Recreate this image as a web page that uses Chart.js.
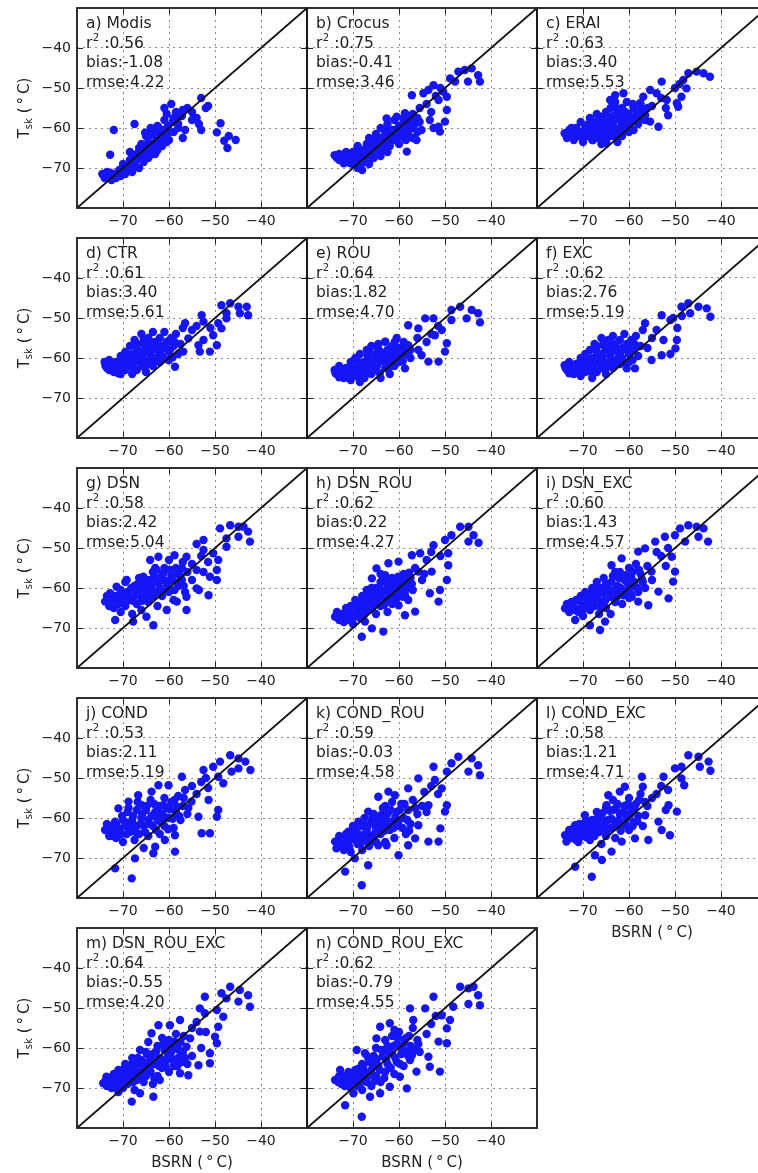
<!DOCTYPE html>
<html>
<head>
<meta charset="utf-8">
<script src="https://cdn.jsdelivr.net/npm/chart.js@4.4.0/dist/chart.umd.min.js"></script>
<style>
  html, body { margin: 0; padding: 0; background: #fff; overflow: hidden; }
  #wrap { position: relative; width: 758px; height: 1173px; overflow: hidden; }
  #wrap canvas { position: absolute; }
</style>
</head>
<body>
<div id="wrap"></div>
<script>
// tick values (both axes)
const xTicks = [-70, -60, -50, -40];
const yTicks = [-70, -60, -50, -40];

// panel texts
const panelNames = ["a) Modis", "b) Crocus", "c) ERAI", "d) CTR", "e) ROU", "f) EXC", "g) DSN",
  "h) DSN_ROU", "i) DSN_EXC", "j) COND", "k) COND_ROU", "l) COND_EXC", "m) DSN_ROU_EXC", "n) COND_ROU_EXC"];
const r2Values = ["0.56", "0.75", "0.63", "0.61", "0.64", "0.62", "0.58", "0.62", "0.60", "0.53", "0.59", "0.58", "0.64", "0.62"];
const biasValues = ["-1.08", "-0.41", "3.40", "3.40", "1.82", "2.76", "2.42", "0.22", "1.43", "2.11", "-0.03", "1.21", "-0.55", "-0.79"];
const rmseValues = ["4.22", "3.46", "5.53", "5.61", "4.70", "5.19", "5.04", "4.27", "4.57", "5.19", "4.58", "4.71", "4.20", "4.55"];

// [BSRN, Tsk] pairs
const modis = [
[-74.5,-71.5],[-74,-72.5],[-73.5,-71],[-73,-72],[-72.5,-73],[-72,-71.5],[-71.5,-72.5],[-71,-71],[-70.5,-72],[-70,-70.5],[-69.5,-71.5],[-69,-70],[-68.5,-69],[-68,-71],[-67.5,-69.5],[-67,-68],[-66.5,-70],[-66,-67],[-65.5,-68.5],[-65,-66],[-64.5,-67.5],[-64,-65],[-63.5,-66.5],[-63,-64],[-62.5,-65.5],[-62,-63],[-61.5,-64.5],[-61,-62],[-60.5,-63.5],[-60,-61],
[-66,-64],[-65,-62],[-64,-60],[-63.5,-61.5],[-63,-61],[-62.5,-59.5],[-62,-61],[-61,-58],[-60.5,-56.5],[-61,-55],[-59.5,-54],[-58.5,-56],[-57,-55.5],[-56,-55],[-55,-56],[-54,-57.5],[-53,-52.5],[-51.5,-54.5],[-52,-55],[-59,-57.5],[-58,-59],
[-63,-66.5],[-62,-64.5],[-60,-63],[-59,-61],[-58,-60],[-57,-62.5],[-56.5,-60.5],[-55,-58],[-53.5,-59],[-53,-60.5],[-64.5,-63.5],[-67,-66.5],[-68.5,-68],[-70,-69],
[-72,-60.5],[-72.8,-66.7],[-67.5,-59],[-68.5,-66],[-48.8,-58.8],[-49.6,-61.1],[-48,-63.2],[-47,-62],[-45.5,-63],[-47.3,-65],
[-73.8,-71.8],[-72.8,-71.2],[-71.8,-71.8],[-70.8,-70.5],[-69.8,-71],[-68.8,-69.8],[-67.8,-68.2],[-66.8,-67.2],[-65.8,-66.2],[-64.8,-65.2],[-63.8,-64.2],[-62.8,-63.2],[-61.8,-62.2],[-60.8,-61.2],[-65.2,-61.2],[-64.2,-61.8],[-63.2,-60.2],[-62.2,-60],[-61.2,-60.5],[-60.2,-59.5],[-59.2,-58.5],[-58.2,-57.5],[-57.2,-57],[-66.5,-65],[-67.5,-66.8]
];
const crocus = [
[-74,-66.8],[-73.5,-67.5],[-73,-66.5],[-72.5,-68],[-72,-67],[-71.5,-66],[-71,-68.5],[-70.5,-67.5],[-70,-69],[-70,-66],[-69.5,-68],[-69,-64.5],[-69,-70],[-68.5,-67],[-68,-65.5],[-68,-70.5],[-67.5,-68.5],[-67,-64],[-67,-67],[-66.5,-62.5],[-66.5,-69],[-66,-65.5],[-65.5,-63.5],[-65.5,-67.5],[-65,-61.5],[-65,-66],[-64.5,-64.5],[-64,-60],[-64,-62.5],[-64,-67],[-63.5,-65.5],[-63,-61],[-63,-63.5],[-62.5,-59],[-62.5,-66],[-62,-62],[-62,-64.5],[-61.5,-60.5],[-61,-58],[-61,-63],[-60.5,-61.5],[-60,-59.5],[-60,-64],[-59.5,-62],[-59,-58.5],[-59,-60.5],[-58.5,-63],[-58,-57.5],[-58,-61.5],[-57.5,-59.5],[-57,-56.5],[-57,-62.5],
[-62.7,-57.6],[-60.5,-57.2],[-58.7,-56.3],[-57.2,-51.8],[-54.7,-51.3],[-53.6,-50.5],[-52.5,-49.3],[-51.4,-53],[-49.6,-55.5],[-50,-58.4],[-51.4,-59.7],[-51.1,-60.9],[-52.5,-60],[-53.3,-58],[-48.9,-47.6],[-47.1,-45.9],[-45.7,-45.5],[-44.2,-45.1],[-45,-48.4],[-42.4,-48.4],[-42.8,-46.8],[-47.8,-48.4],[-50.4,-50.9],[-49.6,-52.2],[-58.3,-65.9],[-56.2,-63],[-58.3,-61.3],[-55.1,-60.5],
[-55.5,-55],[-56,-57.5],[-54,-54],[-53,-56],[-52,-52],[-51,-50],
[-73,-68],[-72,-68.8],[-71,-67],[-70,-67.5],[-69,-66.5],[-68,-67.8],[-67,-65.5],[-66,-67],[-66,-63.8],[-65,-64.8],[-64.5,-63],[-63.5,-64],[-63,-62.2],[-62,-63.2],[-61.5,-61.8],[-61,-60.5],[-60.5,-62.8],[-60,-60.8],[-59.5,-60],[-59,-61.8],[-58.5,-59.5],[-58,-60.5],[-57.5,-58],[-57,-60],[-56.5,-59],[-56,-61],[-55.5,-58.5],[-64,-65.5],[-65,-62.8],[-67.5,-66.2],[-68.5,-68.8],[-70.5,-68.8],[-62.5,-60.5],[-59,-57.5]
];
const erai = [
[-74,-61.3],[-73.5,-62.5],[-73,-60.5],[-72.5,-61.5],[-72,-63],[-71.5,-60],[-71,-62],[-70.5,-58.5],[-70.5,-61],[-70,-63.5],[-69.5,-59.5],[-69,-62],[-68.5,-57.5],[-68.5,-60.5],[-68,-63],[-67.5,-58.5],[-67.5,-61.5],[-67,-56.5],[-67,-60],[-66.5,-62.5],[-66,-58],[-66,-64],[-65.5,-59.5],[-65.5,-61.5],[-65,-56],[-65,-63],[-64.5,-58],[-64.5,-60.5],[-64,-55],[-64,-62],[-63.5,-57],[-63.5,-59.5],[-63,-53.5],[-63,-61],[-62.5,-56],[-62.5,-63.5],[-62,-58],[-62,-60],[-61.5,-55],[-61.5,-62],[-61,-57],[-61,-59.5],[-60.5,-53.5],[-60,-56.5],[-60,-61],[-59.5,-58.5],[-59,-55],[-59,-60.5],[-58.5,-57],[-58,-59],[-57.5,-54],[-57,-56.5],[-56.5,-58],[-56,-55],
[-64.1,-53],[-63,-51.8],[-61.2,-51.3],[-64.9,-63.8],[-67.8,-63],[-62.3,-62.2],
[-52.9,-48.4],[-55.4,-50.5],[-56.9,-52.2],[-57.6,-53.8],[-54,-51.3],[-51.8,-53],[-53.6,-59.7],[-51.5,-56.8],[-55.4,-58.4],[-55,-54.5],[-53,-52.5],[-52,-55],
[-47.1,-46.3],[-45.3,-45.9],[-43.8,-46.3],[-42.4,-47.2],[-48.2,-48],[-47.5,-50.1],[-48.6,-52.2],[-49.6,-53.8],[-49.3,-54.7],[-50,-50],[-49,-49],
[-73.5,-61.5],[-72.5,-60],[-71.8,-62.2],[-71,-60.8],[-70,-62],[-69.3,-60.8],[-68.8,-59],[-68,-61.5],[-67.2,-59.5],[-66.8,-61],[-66.2,-57.2],[-65.8,-60.2],[-65.2,-62],[-64.8,-57],[-64.2,-59.2],[-63.8,-60.8],[-63.2,-58.2],[-62.8,-55],[-62.2,-57],[-61.8,-60.8],[-61.2,-58.2],[-60.8,-56],[-60.2,-59.5],[-59.8,-57.5],[-59.2,-54],[-58.8,-58.2],[-58.2,-56],[-57.8,-57.8],[-57.2,-55.2],[-56.5,-56.8],[-66.5,-59],[-69.5,-61.2],[-61.5,-61.2],[-63,-62.2]
];
const ctr = [
[-74,-61],[-73.5,-62.5],[-73,-60.5],[-72.5,-62],[-72,-63.5],[-71.5,-61],[-71,-62.5],[-70.5,-59.5],[-70.5,-64],[-70,-61.5],[-69.5,-58.5],[-69.5,-63],[-69,-60.5],[-68.5,-57],[-68.5,-62],[-68,-59],[-68,-64],[-67.5,-55.5],[-67.5,-61],[-67,-57.5],[-67,-63],[-66.5,-60],[-66,-54],[-66,-58.5],[-66,-62],[-65.5,-56.5],[-65.5,-60.5],[-65,-58],[-65,-63.5],[-64.5,-55],[-64.5,-61.5],[-64,-57],[-64,-59.5],[-63.5,-53.5],[-63.5,-62],[-63,-56],[-63,-60],[-62.5,-58],[-62,-55],[-62,-61],[-61.5,-57],[-61.5,-59.5],[-61,-53.5],[-60.5,-56],[-60,-58.5],[-60,-60.5],[-59.5,-55],[-59,-57],[-58.7,-62.2],[-58.5,-54],[-58,-59],[-57.5,-56.5],[-57,-52.5],
[-56.5,-51.3],[-52.9,-49.3],[-52.5,-50.9],[-48.6,-46.8],[-46.7,-46.3],[-44.9,-47.2],[-43.1,-47.2],[-42.8,-49.3],[-44.6,-48.8],[-47.5,-48.8],[-47.5,-50.1],[-49.3,-51.3],[-48.6,-52.6],[-50.4,-54.3],[-49.6,-56.8],[-51.1,-58.4],[-53.3,-58.4],[-53.6,-56.8],[-52.5,-55.5],[-55.8,-55.1],[-60.1,-60.5],[-56.9,-58.4],[-55,-53],[-54,-52],[-51,-52.5],
[-73.8,-62],[-73,-63],[-72.2,-61.2],[-71.5,-62.5],[-70.8,-60.8],[-70,-62.8],[-69.2,-61.5],[-68.8,-59.8],[-68.2,-61.2],[-67.8,-62.5],[-67.2,-60],[-66.8,-58.5],[-66.2,-61],[-65.8,-59.2],[-65.2,-62.2],[-64.8,-58.5],[-64.2,-60.8],[-63.8,-58.2],[-63.2,-61.2],[-62.8,-56.8],[-62.2,-59.5],[-61.8,-58],[-61.2,-60.2],[-60.8,-57.5],[-60.2,-55.8],[-59.8,-58],[-59.2,-59.8],[-58.8,-56],[-65.5,-55.5],[-64,-56],[-67,-56.5],[-69.8,-60],[-71,-63.8]
];
const rou = [
[-74,-63],[-73.5,-64],[-73,-62],[-72.5,-63.5],[-72,-65],[-71.5,-62.5],[-71,-64],[-70.5,-61],[-70.5,-65.5],[-70,-63],[-69.5,-60],[-69.5,-64.5],[-69,-62],[-68.5,-66],[-68.5,-59],[-68,-63.5],[-67.5,-61],[-67.5,-65],[-67,-58],[-67,-62.5],[-66.5,-60],[-66,-64],[-66,-57],[-65.5,-61.5],[-65,-59],[-65,-63],[-64.5,-56.5],[-64.5,-61],[-64,-58.5],[-64,-65],[-63.5,-60],[-63,-56],[-63,-62.5],[-62.5,-58],[-62,-60.5],[-62,-64],[-61.5,-57],[-61,-59],[-61,-62],[-60.5,-55],[-60,-57.5],[-60,-61],[-59.5,-59],[-59,-56],[-58.7,-62.6],[-58.5,-58],[-58,-56.8],[-57.5,-60],
[-58,-51.8],[-55.8,-52.6],[-54.3,-50.1],[-52.5,-50.1],[-48.6,-48],[-46.7,-47.2],[-44.2,-48],[-42.8,-48.8],[-42.4,-51.1],[-45.3,-50.1],[-48.6,-50.5],[-50.7,-53],[-52.2,-54.3],[-49.6,-56.3],[-50,-58.4],[-51.4,-60.9],[-53.6,-60.9],[-55.1,-59.3],[-55.8,-58],[-60.9,-55.9],[-63,-55.9],[-56,-55],[-54,-56],[-53,-54],[-51.5,-52],
[-73.8,-63.8],[-73,-64.8],[-72.2,-63],[-71.5,-64.8],[-70.8,-62.5],[-70,-64],[-69.2,-62.8],[-68.8,-61],[-68.2,-64.8],[-67.8,-62.2],[-67.2,-63.8],[-66.8,-59.5],[-66.2,-61.5],[-65.8,-63],[-65.2,-60.2],[-64.8,-62],[-64.2,-63.8],[-63.8,-59],[-63.2,-61],[-62.8,-59.5],[-62.2,-62.5],[-61.8,-58.5],[-61.2,-60.5],[-60.8,-57.8],[-60.2,-59.8],[-59.8,-58],[-59.2,-60.8],[-58.8,-57],[-58.2,-59.2],[-57.5,-58],[-66.5,-58.2],[-64.5,-57.8]
];
const exc = [
[-74,-61.8],[-73.5,-63],[-73,-61],[-72.5,-62.5],[-72,-64],[-71.5,-61.5],[-71,-63],[-70.5,-60],[-70.5,-64.5],[-70,-62],[-69.5,-59],[-69.5,-63.5],[-69,-61],[-68.5,-58],[-68.5,-62.5],[-68,-60],[-68,-65],[-67.5,-56.5],[-67.5,-61.5],[-67,-58.5],[-67,-63.5],[-66.5,-60.5],[-66,-55],[-66,-59],[-66,-62.5],[-65.5,-57],[-65.5,-61],[-65,-58.5],[-65,-64],[-64.5,-55.5],[-64.5,-62],[-64,-57.5],[-64,-60],[-63.5,-54.5],[-63.5,-62.5],[-63,-56.5],[-63,-60.5],[-62.5,-58.5],[-62,-55.5],[-62,-61.5],[-61.5,-57.5],[-61.5,-60],[-61,-54],[-60.5,-56.5],[-60,-59],[-60,-61],[-59.5,-55.5],[-59,-57.5],[-58.7,-62.6],[-58.5,-54.5],[-58,-59.5],[-57.5,-57],[-57,-53],
[-56.5,-51.3],[-52.9,-49.3],[-51,-50.5],[-48.6,-47.2],[-47.1,-46.3],[-44.9,-47.2],[-43.1,-47.6],[-42.3,-49.7],[-46.7,-48.8],[-48.5,-49.5],[-50.4,-50],[-49.5,-52.5],[-49.6,-55.5],[-49.9,-57.6],[-51,-59],[-52.9,-59.3],[-55.1,-60.5],[-60.5,-62.6],[-52.5,-55.5],[-55,-55],[-54,-53],[-56,-57.5],
[-73.8,-62.5],[-73,-63.8],[-72.2,-61.8],[-71.5,-63.2],[-70.8,-61.2],[-70,-63.2],[-69.2,-62],[-68.8,-60.5],[-68.2,-63.5],[-67.8,-62.2],[-67.2,-60.2],[-66.8,-59.5],[-66.2,-61.5],[-65.8,-59.8],[-65.2,-62.8],[-64.8,-58.8],[-64.2,-61.2],[-63.8,-58.5],[-63.2,-61.8],[-62.8,-57.5],[-62.2,-60],[-61.8,-58.5],[-61.2,-61],[-60.8,-57.8],[-60.2,-56.5],[-59.8,-58.5],[-59.2,-60.5],[-58.8,-56.5],[-65.5,-56],[-64,-56.5],[-67,-57],[-70,-60.5]
];
const dsn = [
[-73.9,-63.4],[-73.5,-62],[-73,-64.5],[-72.8,-61.3],[-72.5,-63],[-72,-65],[-71.7,-68],[-71.4,-59.7],[-71.5,-62],[-71,-64],[-70.5,-60.5],[-70.5,-66],[-70,-62.5],[-69.5,-58.5],[-69.5,-64.5],[-69.2,-58],[-69,-61],[-68.5,-63],[-68,-66.5],[-67.8,-68.4],[-67.5,-59.5],[-67.5,-62],[-67,-64],[-66.5,-57.5],[-66.5,-60.5],[-66,-62.5],[-66,-65.5],[-65.6,-57.2],[-65.5,-59.5],[-65,-61.5],[-64.9,-67.2],[-64.5,-63.5],[-64.5,-58],[-64.1,-53],[-64,-60.5],[-63.5,-56],[-63.4,-69.3],[-63.5,-62],[-63,-58.5],[-62.7,-55.5],[-62.5,-64.5],[-62.3,-52.2],[-62,-60],[-61.5,-57],[-61.5,-62],[-61,-55],[-60.5,-59],[-60.5,-65.5],[-60,-53],[-60,-61],[-59.5,-57],[-59,-63],[-58.8,-51.8],[-58.5,-55],[-58.3,-63.4],[-58,-59.5],[-57.5,-57],[-57.2,-58],[-57,-53.5],[-56.5,-61],[-56.2,-52.2],[-56.2,-62.2],[-56.2,-65.5],[-56,-56],[-55,-58],[-55,-54],
[-54,-60.1],[-53.5,-60.5],[-51.4,-61.8],[-51.1,-57.2],[-49.6,-58],[-49.6,-55.5],[-49.3,-53],[-52.5,-48],[-54,-49],[-52.5,-50.5],[-48.9,-45.1],[-46.7,-44.3],[-44.9,-44.7],[-43.8,-44.7],[-42.8,-45.9],[-42.4,-48.4],[-44.9,-47.2],[-47.5,-47.6],[-47.5,-49.7],[-50.4,-51.3],[-53,-52],[-51.5,-53.5],[-54,-55.5],[-52.5,-56],
[-73.2,-63.5],[-72.2,-62.2],[-71.2,-63.2],[-70.2,-61.5],[-69.8,-63.5],[-68.8,-62],[-68.2,-60],[-67.8,-63.2],[-67.2,-61],[-66.8,-59],[-66.2,-61.5],[-65.8,-63.2],[-65.2,-60.5],[-64.8,-58.8],[-64.2,-62.5],[-63.8,-59.8],[-63.2,-57.2],[-62.8,-61.2],[-62.2,-58.5],[-61.8,-60.8],[-61.2,-56.2],[-60.8,-58.2],[-60.2,-60.2],[-59.8,-55.5],[-59.2,-58.2],[-58.8,-60.5],[-58.2,-56.5],[-57.8,-58.5],[-57.2,-55],[-56.8,-59.5],[-66,-58],[-63,-55]
];
const dsnRou = [
[-73.9,-67.2],[-73.5,-66],[-73,-68],[-72.5,-66.5],[-72,-68.5],[-71.5,-65],[-71,-68],[-71,-67],[-70.5,-64.5],[-70,-66.5],[-70,-69],[-69.5,-63],[-69,-65.5],[-68.5,-67.5],[-68.1,-72.2],[-68,-62],[-68,-64.5],[-67.5,-66.5],[-67.4,-68.4],[-67,-60.5],[-67,-63.5],[-66.5,-65.5],[-66,-62],[-65.9,-70.1],[-65.9,-57.6],[-65.5,-64],[-65,-60],[-65,-66.5],[-64.9,-55.1],[-64.5,-62.5],[-64,-58.5],[-64,-64.5],[-63.5,-61],[-63.4,-70.9],[-63,-56.8],[-63,-63],[-62.5,-59.5],[-62.5,-66],[-62.3,-53.8],[-62,-61.5],[-61.5,-57.5],[-61.5,-64],[-61,-60],[-60.5,-62.5],[-60.1,-53.4],[-60.1,-64.3],[-60,-58.5],[-59.5,-61],[-59,-56.5],[-58.7,-61.8],[-58.7,-66.8],[-58.5,-59],[-58,-63],[-57.5,-57.5],[-57.2,-51.8],[-57,-60.5],[-56.5,-65.9],[-56.5,-55],[-55.8,-55.9],[-55.4,-51.3],[-55,-58],
[-53.3,-61.3],[-52.9,-55.9],[-52.5,-49.3],[-51.1,-60.5],[-51.4,-63.4],[-50,-48],[-49.6,-58],[-49.3,-54.3],[-49.3,-51.3],[-48.6,-46.8],[-46.7,-44.7],[-44.9,-44.7],[-43.8,-46.8],[-42.7,-48.7],[-44.9,-48.4],[-54,-53],[-53,-51],[-51,-52],[-54.5,-56.5],
[-73.2,-67],[-72.2,-67.5],[-71.5,-66],[-70.8,-65.5],[-70.2,-67.8],[-69.2,-64.5],[-68.8,-66.5],[-68.2,-63.2],[-67.8,-65.2],[-67.2,-62.2],[-66.8,-64.5],[-66.2,-63],[-65.8,-65],[-65.2,-61.5],[-64.8,-63.5],[-64.2,-60],[-63.8,-62.2],[-63.2,-64.2],[-62.8,-58.5],[-62.2,-60.5],[-61.8,-62.8],[-61.2,-58.8],[-60.8,-61.2],[-60.2,-57.2],[-59.8,-59.8],[-59.2,-62.2],[-58.8,-58],[-58.2,-60.2],[-57.8,-56.2],[-57.2,-59],[-66,-60],[-64,-56.5]
];
const dsnExc = [
[-73.9,-65.1],[-73.5,-64],[-73,-66],[-72.5,-63.5],[-72,-65.5],[-71.7,-68],[-71.5,-63],[-71,-66],[-70.5,-62],[-70,-64.5],[-70,-67],[-69.5,-61],[-69,-63.5],[-68.5,-69.3],[-68.5,-65.5],[-68,-60],[-68,-62.5],[-67.5,-64.5],[-67,-58.5],[-67,-61.5],[-66.5,-66.5],[-66.3,-70.5],[-66,-60],[-66,-63.5],[-65.5,-57.5],[-65.2,-68.4],[-65,-62],[-65,-65],[-64.5,-59],[-64,-61],[-64,-66.5],[-63.8,-54.3],[-63.5,-57],[-63,-63.5],[-62.5,-59.5],[-62,-61.5],[-62,-56],[-61.6,-52.6],[-61.5,-64],[-61,-58],[-60.5,-60.5],[-60,-55],[-60,-62.5],[-59.4,-62.2],[-59.5,-57.5],[-59,-59.5],[-58.5,-54],[-58,-50.9],[-58,-63.4],[-58,-61],[-57.5,-56.5],[-57,-58.5],[-56.5,-50.1],[-56.5,-60],[-56,-54.5],[-55.8,-64.3],[-55.1,-55.9],[-55,-58],
[-54.3,-48.4],[-53.6,-60.9],[-52.2,-47.2],[-51.4,-62.6],[-50.7,-52.2],[-50.4,-58.4],[-50,-55.9],[-50,-46.8],[-48.9,-45.1],[-47.1,-44.3],[-45.3,-44.7],[-43.8,-45.1],[-42.8,-48.4],[-44.9,-47.2],[-47.8,-48.4],[-53,-52],[-52,-54.5],[-54,-51],[-51.5,-50],
[-73.2,-64.8],[-72.2,-64.5],[-71.5,-65.2],[-70.8,-63.2],[-70.2,-65.8],[-69.2,-62.5],[-68.8,-64.5],[-68.2,-61.5],[-67.8,-63.5],[-67.2,-60.2],[-66.8,-62.5],[-66.2,-64.8],[-65.8,-61],[-65.2,-63.2],[-64.8,-60.2],[-64.2,-62.2],[-63.8,-58.5],[-63.2,-60.5],[-62.8,-62.5],[-62.2,-57.5],[-61.8,-60],[-61.2,-61.8],[-60.8,-56.8],[-60.2,-59],[-59.8,-61.2],[-59.2,-56],[-58.8,-58.5],[-58.2,-60],[-57.8,-55.5],[-57.2,-57.8],[-65,-59],[-63,-56]
];
const cond = [
[-73.9,-63],[-73.5,-61.5],[-73,-64.5],[-72.5,-62],[-72,-63.5],[-71.7,-72.6],[-71.7,-60.9],[-71.5,-65],[-71,-57.6],[-71,-62.5],[-70.5,-64],[-70,-60.5],[-70,-66],[-69.5,-62],[-69,-58.5],[-68.8,-55.9],[-68.5,-63.5],[-68.1,-75.1],[-68,-60.5],[-67.5,-65.5],[-67.4,-70.1],[-67,-58],[-67,-62],[-66.7,-54.3],[-66.5,-64],[-66,-60],[-65.9,-56.8],[-65.5,-67.5],[-65.5,-62],[-65,-58],[-64.5,-60.5],[-64.5,-64.5],[-64,-55.5],[-63.8,-53.4],[-63.5,-62],[-63.4,-68.8],[-63,-58.5],[-63,-67.2],[-62.5,-60.5],[-62.3,-51.8],[-62,-57],[-62,-64],[-61.5,-59],[-61,-55],[-61,-62],[-60.9,-65.5],[-60.5,-57.5],[-60.1,-51.8],[-60,-60],[-59.5,-56],[-59,-62.5],[-58.7,-64.3],[-58.7,-68.4],[-58.5,-58.5],[-58,-54.5],[-57.5,-60.5],[-57.2,-49.7],[-57,-57],[-56.5,-53],[-56,-59],[-55.1,-55.9],[-55,-52],[-54,-54],
[-53.6,-59.7],[-52.9,-63.8],[-52.5,-48],[-51.1,-63.8],[-51.4,-55.5],[-50.4,-47.2],[-49.6,-59.7],[-49.3,-58],[-49.3,-49.7],[-48.9,-45.9],[-48.2,-51.3],[-46.7,-44.3],[-44.9,-45.1],[-43.4,-45.9],[-42.3,-48],[-44.9,-47.6],[-46.4,-48.4],[-53,-51],[-51.5,-52.5],[-52,-50],
[-73.2,-62.5],[-72.2,-64.5],[-71.5,-61.5],[-70.8,-63.2],[-70.2,-59.5],[-69.5,-61],[-69.2,-64],[-68.8,-57.5],[-68.2,-62],[-67.8,-59.5],[-67.2,-63.5],[-66.8,-56],[-66.2,-61.5],[-65.8,-59],[-65.2,-63.5],[-64.8,-57],[-64.2,-61.5],[-63.8,-59.5],[-63.2,-56.5],[-62.8,-63],[-62.2,-58.8],[-61.8,-61],[-61.2,-56.8],[-60.8,-59.8],[-60.2,-62.8],[-59.8,-57.8],[-59.2,-60.2],[-58.8,-55.5],[-58.2,-57.2],[-57.8,-59.5],[-56.8,-55],[-55.8,-57.5]
];
const condRou = [
[-73.9,-65.9],[-73.6,-67.6],[-73,-64.5],[-72.5,-66.5],[-72,-68],[-71.7,-73.4],[-71.5,-64],[-71,-63.4],[-71,-66],[-70.5,-68.5],[-70,-62],[-70,-65],[-69.6,-70.1],[-69.5,-63.5],[-69,-66.5],[-68.8,-60.9],[-68.5,-64.5],[-68.1,-76.8],[-68,-62],[-68,-68],[-67.5,-60],[-67.5,-65.5],[-67,-63],[-66.7,-58.4],[-66.7,-71.8],[-66.5,-67],[-66,-61],[-66,-64.5],[-65.5,-59],[-65,-62.5],[-65,-66],[-64.5,-54.7],[-64.5,-60],[-64.5,-66.8],[-64,-64],[-63.5,-57.5],[-63.5,-61.5],[-63,-66],[-62.7,-66.8],[-62.3,-53.4],[-62.5,-59],[-62,-63],[-61.5,-56],[-61.5,-61],[-61,-65],[-60.9,-54.3],[-60.5,-58.5],[-60.1,-69.3],[-60,-62],[-59.5,-56.5],[-59,-60],[-58.5,-64],[-58,-52.6],[-58,-66.8],[-58,-58],[-57.5,-61.5],[-57,-55.5],[-56.5,-65.1],[-56,-59],[-55.8,-50.1],[-55.8,-61.8],[-55,-57],[-54.5,-53.5],
[-53.6,-65.9],[-53.6,-56.8],[-52.5,-47.2],[-52.2,-50.5],[-51.4,-65.9],[-51,-62.6],[-50.7,-52.6],[-50,-58.4],[-49.6,-56.8],[-49.6,-48.4],[-48.6,-46.3],[-47.1,-44.7],[-44.2,-45.1],[-42.8,-46.8],[-42.4,-49.3],[-44.9,-48.4],[-53,-52],[-54,-58.5],[-51.5,-54],
[-73.2,-65.5],[-72.2,-66.8],[-71.5,-65],[-70.8,-67.2],[-70.2,-63.5],[-69.5,-65.5],[-69.2,-62.2],[-68.8,-64],[-68.2,-66.2],[-67.8,-61.2],[-67.2,-63.8],[-66.8,-62],[-66.2,-65.8],[-65.8,-60],[-65.2,-63.8],[-64.8,-61.2],[-64.2,-62.8],[-63.8,-59.2],[-63.2,-63.2],[-62.8,-60.5],[-62.2,-61.8],[-61.8,-58],[-61.2,-62.5],[-60.8,-59.8],[-60.2,-60.8],[-59.8,-58],[-59.2,-62.5],[-58.8,-56.5],[-58.2,-60.5],[-57.8,-63.2],[-56.5,-57.5],[-63,-57]
];
const condExc = [
[-73.9,-64.3],[-73.6,-65.9],[-73,-63],[-72.5,-65],[-72,-62.5],[-71.7,-72.2],[-71.7,-61.8],[-71.5,-64],[-71,-66],[-70.5,-62.5],[-70,-64.5],[-69.6,-59.3],[-69.5,-61],[-69,-63],[-68.5,-65.5],[-68.1,-74.7],[-68,-60.5],[-68,-62.5],[-67.5,-64.5],[-67.4,-69.3],[-67,-58.5],[-67,-61],[-66.5,-63.5],[-66,-66.5],[-65.9,-70.5],[-66,-60],[-65.5,-62],[-65,-57.5],[-65,-64.5],[-64.9,-56.8],[-64.5,-54.3],[-64.5,-60.5],[-64,-62.5],[-63.8,-68.4],[-63.5,-58],[-63,-61],[-63,-65],[-62.5,-56.5],[-62,-53.4],[-62,-59],[-61.6,-65.9],[-61.5,-62],[-61,-57],[-60.9,-52.2],[-60.5,-60],[-60,-55],[-60,-63],[-59.5,-58],[-59,-61],[-58.7,-65.1],[-58.5,-56.5],[-58,-59.5],[-57.5,-54],[-57.2,-49.7],[-57,-52.2],[-57,-62],[-56.5,-59.3],[-56,-57],[-55.8,-65.5],[-55,-55],
[-53.6,-60.9],[-52.9,-63],[-52.5,-49.7],[-51.4,-56.8],[-51.1,-64.3],[-50,-47.6],[-49.6,-58.4],[-48.6,-50.1],[-48,-51.8],[-48.6,-47.2],[-47.1,-44.3],[-44.9,-44.7],[-42.7,-45.9],[-42.3,-48.2],[-44.6,-47.2],[-53,-52],[-54,-54],[-51.5,-53],[-52,-58],
[-73.2,-64],[-72.2,-63.8],[-71.5,-65.5],[-70.8,-61.5],[-70.2,-63.5],[-69.5,-62],[-69.2,-64.8],[-68.8,-60.8],[-68.2,-64],[-67.8,-61.5],[-67.2,-62.8],[-66.8,-60],[-66.2,-62.2],[-65.8,-58.8],[-65.2,-61],[-64.8,-63.2],[-64.2,-58.2],[-63.8,-60.2],[-63.2,-62.2],[-62.8,-57.5],[-62.2,-60.5],[-61.8,-63.2],[-61.2,-58.5],[-60.8,-61.5],[-60.2,-56.5],[-59.8,-59.2],[-59.2,-62],[-58.8,-57.5],[-58.2,-60.8],[-57.8,-55.5],[-56.5,-56],[-63.5,-55.5]
];
const dsnRouExc = [
[-74.3,-68.8],[-73.6,-67.2],[-73.5,-69.5],[-73,-68],[-72.5,-70],[-72,-66.5],[-72,-69],[-71.5,-67.5],[-71,-71],[-71,-65.5],[-70.5,-68.5],[-70,-66],[-70,-70],[-69.5,-64],[-69.5,-67.5],[-69,-69],[-68.5,-65.5],[-68.1,-73.4],[-68,-62.5],[-68,-67],[-67.5,-70.5],[-67,-64],[-67,-68],[-66.5,-66],[-66.3,-60.5],[-66.3,-71.3],[-66,-63],[-65.5,-65],[-65.5,-68.5],[-65,-61],[-65,-67],[-64.5,-63.5],[-64.5,-58.5],[-64,-66],[-63.8,-56.3],[-63.5,-61.5],[-63.5,-69],[-63.4,-72.2],[-63,-64],[-62.5,-59.5],[-62.5,-67],[-62.3,-54.3],[-62,-62.5],[-62,-68],[-61.5,-57.5],[-61.5,-65],[-61,-60.5],[-60.5,-63],[-60,-58],[-60,-66],[-59.8,-54.3],[-59.5,-61],[-59,-64.5],[-58.5,-56.5],[-58.5,-60],[-58,-62.5],[-57.6,-53],[-57.6,-66.3],[-57.5,-58.5],[-57,-61],[-56.2,-59.7],[-56,-64],[-55.8,-66.8],[-55.4,-57.6],[-55,-62],
[-53.6,-64.3],[-53.3,-55.9],[-53.3,-50.1],[-52.2,-51.3],[-52.2,-47.2],[-51.1,-63.8],[-51.1,-61.3],[-50,-57.2],[-49.6,-58.8],[-49.6,-50.5],[-49.3,-54.7],[-48.2,-52.2],[-48.6,-46.3],[-46.7,-44.7],[-44.6,-45.5],[-42.8,-46.8],[-42.4,-49.7],[-44.9,-48.4],[-47.5,-47.6],[-53,-60],[-54,-53.5],[-52,-56],[-55,-55],
[-73.8,-68.2],[-73.2,-69],[-72.8,-67.5],[-72.2,-68.2],[-71.8,-69.8],[-71.2,-66.8],[-70.8,-69.2],[-70.2,-67.2],[-69.8,-65.2],[-69.2,-68.2],[-68.8,-66.5],[-68.2,-64.2],[-67.8,-68.5],[-67.2,-65.5],[-66.8,-62.5],[-66.2,-67.5],[-65.8,-64],[-65.2,-66.2],[-64.8,-61.5],[-64.2,-64.8],[-63.8,-62.5],[-63.2,-67.5],[-62.8,-60.8],[-62.2,-64.5],[-61.8,-62.8],[-61.2,-59],[-60.8,-64.5],[-60.2,-61.8],[-59.8,-59.5],[-59.2,-62.8],[-58.8,-58.5],[-58.2,-64.5],[-57.8,-60.5],[-57.2,-63.5],[-56.8,-57],[-56.5,-62.5]
];
const condRouExc = [
[-73.9,-68],[-72.8,-65.5],[-73,-67],[-72.5,-69],[-72,-67],[-71.7,-74.3],[-71.5,-68.5],[-71,-66],[-70.5,-70],[-70,-68],[-69.9,-71.3],[-69.5,-65.5],[-69.2,-60.5],[-69,-69.5],[-68.5,-67],[-68.1,-77.2],[-68,-64],[-68,-70.5],[-67.5,-66],[-67.4,-61.3],[-67,-68.5],[-66.5,-63.5],[-66.3,-72.2],[-66,-65.5],[-66,-69.5],[-65.5,-62],[-65,-67],[-65,-60],[-64.9,-57.6],[-64.5,-64.5],[-64.1,-54.7],[-64.1,-71.3],[-64,-68.5],[-63.5,-62],[-63,-66],[-62.5,-59.5],[-62.5,-64],[-62,-53.8],[-62,-69.7],[-61.5,-57],[-61.5,-61.5],[-61,-66.5],[-60.5,-59],[-60.5,-63.5],[-60,-56],[-59.8,-59.7],[-59.8,-67.2],[-59.5,-61.5],[-59,-64.5],[-58.5,-57.5],[-58.3,-70.1],[-58,-62],[-57.6,-50.1],[-57.6,-63],[-57.5,-59.5],[-57,-55],[-56.9,-53],[-56.2,-65.9],[-56,-58],[-55.5,-61],
[-54.3,-50.1],[-53.6,-62.2],[-53.3,-64.7],[-52.5,-47.2],[-51.4,-58.4],[-51.1,-65.9],[-50.7,-51.8],[-49.6,-58.8],[-49.6,-55.1],[-48.9,-53],[-48.2,-49.7],[-46.7,-44.7],[-44.9,-45.1],[-43.8,-44.7],[-42.8,-46.8],[-42.4,-49.3],[-44.9,-49],[-53,-54],[-54,-56.5],[-52,-52],
[-73.2,-68.5],[-72.5,-67.2],[-71.8,-69.5],[-71.2,-67.5],[-70.8,-68.5],[-70.2,-66.5],[-69.5,-68.2],[-69.2,-66.8],[-68.8,-65.2],[-68.2,-68.5],[-67.8,-64.8],[-67.2,-67.2],[-66.8,-62.2],[-66.2,-66.8],[-65.8,-63.8],[-65.2,-68.2],[-64.8,-62.8],[-64.2,-65.5],[-63.8,-60.5],[-63.2,-67.5],[-62.8,-63],[-62.2,-61],[-61.8,-65],[-61.2,-59.5],[-60.8,-62.5],[-60.2,-57.5],[-59.8,-64],[-59.2,-60.2],[-58.8,-58.5],[-58.2,-61],[-57.8,-57],[-57.2,-61.8],[-56.5,-60.5],[-55.8,-59],[-63,-58],[-61,-55.5]
];

const panelData = [modis, crocus, erai, ctr, rou, exc, dsn, dsnRou, dsnExc, cond, condRou, condExc, dsnRouExc, condRouExc];

const FONT = '"DejaVu Sans", Verdana, sans-serif';
const AX_MIN = -80, AX_MAX = -30;
const CW = 312, CH = 255;   // canvas size
const PAD_TOP = 8, YAXIS_W = 77, XAXIS_H = 47;

function fmt(v) {
  return String(v).replace("-", "\u2212");
}

function noPad(s) {
  s.paddingTop = 0; s.paddingBottom = 0; s.paddingLeft = 0; s.paddingRight = 0;
}

// draws box, inner ticks, annotation text and axis titles
function panelPlugin(idx, col) {
  return {
    id: "panelDeco" + idx,
    afterDraw(chart) {
      const ctx = chart.ctx;
      const a = chart.chartArea;
      const xs = chart.scales.x, ys = chart.scales.y;
      ctx.save();

      // inner tick marks on all four sides
      ctx.strokeStyle = "#222";
      ctx.lineWidth = 1;
      ctx.beginPath();
      xTicks.forEach(v => {
        const px = Math.round(xs.getPixelForValue(v)) + 0.5;
        ctx.moveTo(px, a.bottom); ctx.lineTo(px, a.bottom - 6);
        ctx.moveTo(px, a.top); ctx.lineTo(px, a.top + 6);
      });
      yTicks.forEach(v => {
        const py = Math.round(ys.getPixelForValue(v)) + 0.5;
        ctx.moveTo(a.left, py); ctx.lineTo(a.left + 6, py);
        ctx.moveTo(a.right, py); ctx.lineTo(a.right - 6, py);
      });
      ctx.stroke();

      // frame
      ctx.lineWidth = 1.8;
      ctx.strokeStyle = "#1a1a1a";
      ctx.strokeRect(a.left, a.top, a.right - a.left, a.bottom - a.top);

      // annotation
      ctx.fillStyle = "#222";
      ctx.textBaseline = "middle";
      ctx.textAlign = "left";
      const tx = a.left + 9;
      ctx.font = "15.5px " + FONT;
      ctx.fillText(panelNames[idx], tx, a.top + 16);
      ctx.fillText("r", tx, a.top + 35.5);
      const rw = ctx.measureText("r").width;
      ctx.font = "10px " + FONT;
      ctx.fillText("2", tx + rw + 0.5, a.top + 30);
      const w2 = ctx.measureText("2").width;
      ctx.font = "15.5px " + FONT;
      ctx.fillText(" :" + r2Values[idx], tx + rw + w2 + 0.5, a.top + 35.5);
      ctx.fillText("bias:" + biasValues[idx], tx, a.top + 55);
      ctx.fillText("rmse:" + rmseValues[idx], tx, a.top + 74.5);

      // y title for left column
      if (col === 0) {
        ctx.save();
        ctx.translate(25, (a.top + a.bottom) / 2);
        ctx.rotate(-Math.PI / 2);
        const big = "15px " + FONT, small = "10px " + FONT;
        ctx.font = big;
        const wT = ctx.measureText("T").width;
        const rest = " (\u2009\u00b0\u2009C)";
        const wR = ctx.measureText(rest).width;
        ctx.font = small;
        const wS = ctx.measureText("sk").width;
        let x0 = -(wT + wS + wR) / 2;
        ctx.font = big;
        ctx.fillText("T", x0, 0);
        ctx.font = small;
        ctx.fillText("sk", x0 + wT, 4);
        ctx.font = big;
        ctx.fillText(rest, x0 + wT + wS, 0);
        ctx.restore();
      }

      // x title on the bottom panels
      if (idx >= 11) {
        ctx.font = "15px " + FONT;
        ctx.textAlign = "center";
        ctx.fillText("BSRN (\u2009\u00b0\u2009C)", (a.left + a.right) / 2, a.bottom + 35);
      }
      ctx.restore();
    }
  };
}

const wrap = document.getElementById("wrap");

panelData.forEach((pts, idx) => {
  const row = Math.floor(idx / 3), col = idx % 3;
  const canvas = document.createElement("canvas");
  canvas.width = CW; canvas.height = CH;
  canvas.style.width = CW + "px"; canvas.style.height = CH + "px";
  canvas.style.left = (230 * col) + "px";
  canvas.style.top = (230 * row) + "px";
  wrap.appendChild(canvas);

  new Chart(canvas.getContext("2d"), {
    type: "scatter",
    data: {
      datasets: [
        {
          type: "line",
          data: [{ x: AX_MIN, y: AX_MIN }, { x: AX_MAX, y: AX_MAX }],
          borderColor: "#111",
          borderWidth: 1.8,
          pointRadius: 0,
          fill: false
        },
        {
          data: pts.map(p => ({ x: p[0], y: p[1] })),
          backgroundColor: "rgb(22,22,245)",
          borderWidth: 0,
          pointRadius: 4.2
        }
      ]
    },
    options: {
      responsive: false,
      animation: false,
      events: [],
      layout: { padding: { top: PAD_TOP, left: 0, right: CW - YAXIS_W - 230, bottom: 0 } },
      plugins: { legend: { display: false }, tooltip: { enabled: false } },
      scales: {
        x: {
          type: "linear",
          min: AX_MIN, max: AX_MAX,
          afterBuildTicks: s => { s.ticks = xTicks.map(v => ({ value: v })); },
          afterFit: s => { s.height = XAXIS_H; noPad(s); },
          grid: { color: "rgba(0,0,0,0.45)", lineWidth: 1, drawTicks: false },
          border: { display: false, dash: [2, 4] },
          ticks: {
            padding: 5,
            color: "#222",
            font: { family: FONT, size: 14 },
            maxRotation: 0,
            callback: v => fmt(v)
          }
        },
        y: {
          type: "linear",
          min: AX_MIN, max: AX_MAX,
          afterBuildTicks: s => { s.ticks = yTicks.map(v => ({ value: v })); },
          afterFit: s => { s.width = YAXIS_W; noPad(s); },
          grid: { color: "rgba(0,0,0,0.45)", lineWidth: 1, drawTicks: false },
          border: { display: false, dash: [2, 4] },
          ticks: {
            display: col === 0,
            padding: 6,
            color: "#222",
            font: { family: FONT, size: 14 },
            callback: v => fmt(v)
          }
        }
      }
    },
    plugins: [panelPlugin(idx, col)]
  });
});
</script>
</body>
</html>
